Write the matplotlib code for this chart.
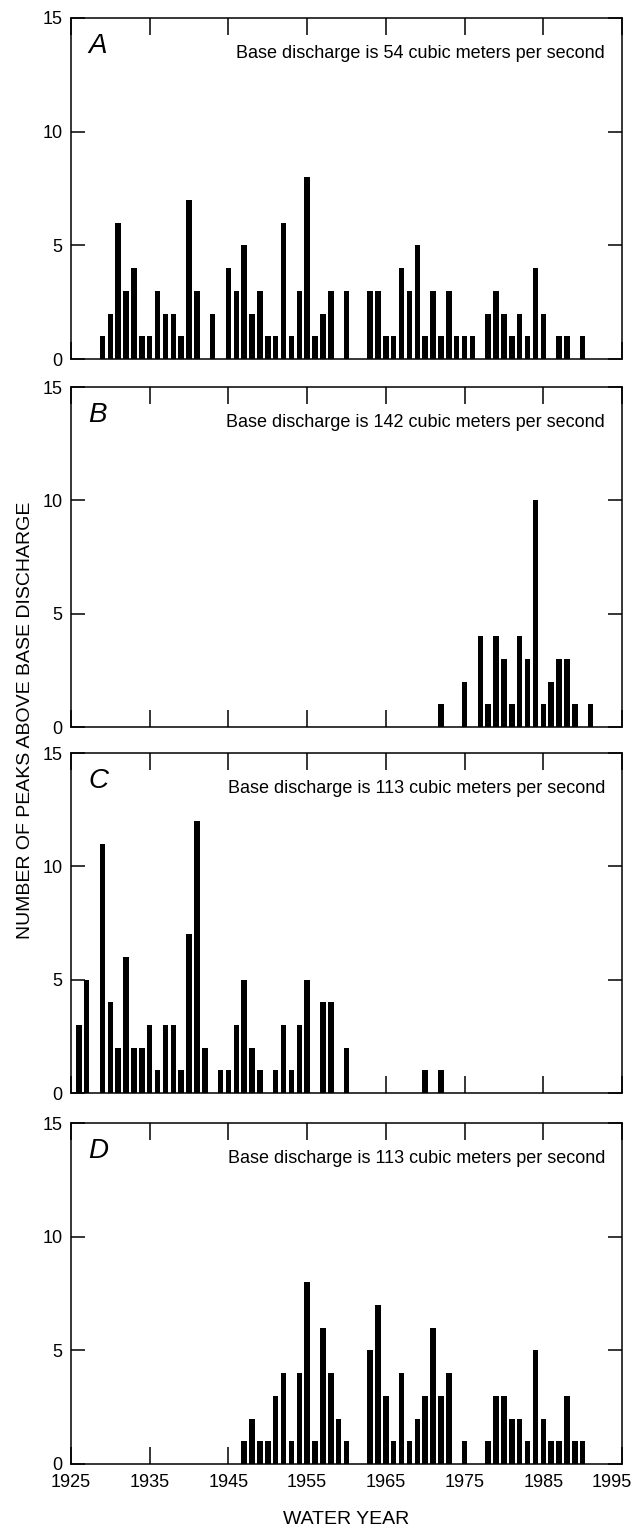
import numpy as np
import matplotlib
matplotlib.use('Agg')
import matplotlib.pyplot as plt
from matplotlib.transforms import ScaledTranslation

plt.rcParams['font.family'] = ['Liberation Sans', 'DejaVu Sans']

# peaks above base discharge
years_a = [1929, 1930, 1931, 1932, 1933, 1934, 1935, 1936, 1937, 1938, 1939, 1940, 1941,
           1943, 1945, 1946, 1947, 1948, 1949, 1950, 1951, 1952, 1953, 1954, 1955, 1956,
           1957, 1958, 1960, 1963, 1964, 1965, 1966, 1967, 1968, 1969, 1970, 1971, 1972,
           1973, 1974, 1975, 1976, 1978, 1979, 1980, 1981, 1982, 1983, 1984, 1985, 1987,
           1988, 1990]
peaks_a = [1, 2, 6, 3, 4, 1, 1, 3, 2, 2, 1, 7, 3,
           2, 4, 3, 5, 2, 3, 1, 1, 6, 1, 3, 8, 1,
           2, 3, 3, 3, 3, 1, 1, 4, 3, 5, 1, 3, 1,
           3, 1, 1, 1, 2, 3, 2, 1, 2, 1, 4, 2, 1,
           1, 1]

years_b = [1972, 1975, 1977, 1978, 1979, 1980, 1981, 1982, 1983, 1984, 1985, 1986,
           1987, 1988, 1989, 1991]
peaks_b = [1, 2, 4, 1, 4, 3, 1, 4, 3, 10, 1, 2, 3, 3, 1, 1]

years_c = [1926, 1927, 1929, 1930, 1931, 1932, 1933, 1934, 1935, 1936, 1937, 1938, 1939,
           1940, 1941, 1942, 1944, 1945, 1946, 1947, 1948, 1949, 1951, 1952, 1953, 1954,
           1955, 1957, 1958, 1960, 1970, 1972]
peaks_c = [3, 5, 11, 4, 2, 6, 2, 2, 3, 1, 3, 3, 1,
           7, 12, 2, 1, 1, 3, 5, 2, 1, 1, 3, 1, 3,
           5, 4, 4, 2, 1, 1]

years_d = [1947, 1948, 1949, 1950, 1951, 1952, 1953, 1954, 1955, 1956, 1957, 1958, 1959,
           1960, 1963, 1964, 1965, 1966, 1967, 1968, 1969, 1970, 1971, 1972, 1973, 1975,
           1978, 1979, 1980, 1981, 1982, 1983, 1984, 1985, 1986, 1987, 1988, 1989, 1990]
peaks_d = [1, 2, 1, 1, 3, 4, 1, 4, 8, 1, 6, 4, 2,
           1, 5, 7, 3, 1, 4, 1, 2, 3, 6, 3, 4, 1,
           1, 3, 3, 2, 2, 1, 5, 2, 1, 1, 3, 1, 1]

letters = ['A', 'B', 'C', 'D']
base_q = [54, 142, 113, 113]
x_ticks = [1925, 1935, 1945, 1955, 1965, 1975, 1985, 1995]
y_ticks = [0, 5, 10, 15]

W, H = 635, 1529
fig = plt.figure(figsize=(W / 100, H / 100), dpi=100)

# panel boxes in pixels: left, top, right, bottom
boxes = [(71, 18, 622, 359), (71, 387, 622, 727), (71, 753, 622, 1093), (71, 1123, 622, 1464)]
data = [(years_a, peaks_a), (years_b, peaks_b), (years_c, peaks_c), (years_d, peaks_d)]

for i, (box, (yrs, pk)) in enumerate(zip(boxes, data)):
    l, t, r, b = box
    ax = fig.add_axes([l / W, 1 - b / H, (r - l) / W, (b - t) / H])
    ax.bar(yrs, pk, width=0.7, color='black', linewidth=0)
    ax.set_xlim(1925, 1995)
    ax.set_ylim(0, 15)
    ax.set_xticks(x_ticks)
    ax.set_yticks(y_ticks)
    ax.tick_params(axis='x', direction='in', length=12, width=1.1, top=True,
                   labelsize=13, pad=7, labelbottom=(i == 3))
    ax.tick_params(axis='y', direction='in', length=10, width=1.1, right=True,
                   labelsize=13, pad=6)
    for s in ax.spines.values():
        s.set_linewidth(1.1)
    ax.text(0.031, 0.955, letters[i], transform=ax.transAxes, fontsize=20,
            style='italic', ha='left', va='top')
    ax.text(0.969, 0.897, f'Base discharge is {base_q[i]} cubic meters per second',
            transform=ax.transAxes, fontsize=13, ha='right', va='center')
    if i == 3:
        # last year label sits at the edge; nudge it in like the original
        last = ax.get_xticklabels()[-1]
        last.set_transform(last.get_transform() + ScaledTranslation(-10 / 100, 0, fig.dpi_scale_trans))

fig.text(26 / W, 1 - 720 / H, 'NUMBER OF PEAKS ABOVE BASE DISCHARGE', rotation=90,
         ha='center', va='center', fontsize=14)
fig.text(346 / W, 1 - 1519 / H, 'WATER YEAR', ha='center', va='center', fontsize=14)

fig.savefig('out.png', dpi=100)
